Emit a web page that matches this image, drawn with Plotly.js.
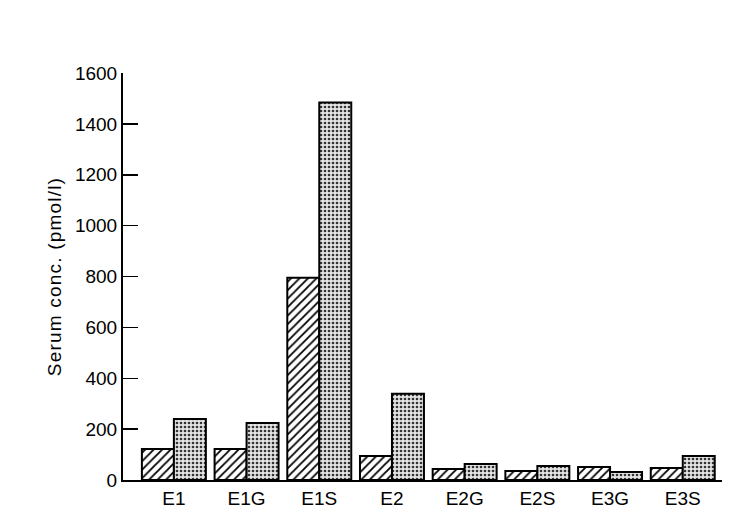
<!DOCTYPE html>
<html>
<head>
<meta charset="utf-8">
<script src="https://cdn.plot.ly/plotly-3.0.1.min.js"></script>
<style>html,body{margin:0;padding:0;background:#fff;}#chart{width:742px;height:527px;}
.ytitle{letter-spacing:1.2px;}</style>
</head>
<body>
<div id="chart"></div>
<script>
var categories = ["E1", "E1G", "E1S", "E2", "E2G", "E2S", "E3G", "E3S"];
var hatchedValues = [122, 122, 795, 94, 43, 35, 51, 47];
var dottedValues = [240, 224, 1484, 339, 63, 55, 31, 94];
var yTicks = [0, 200, 400, 600, 800, 1000, 1200, 1400, 1600];

var font = "Arial, 'Liberation Sans', Helvetica, sans-serif";

var traces = [
  {
    type: "bar",
    x: categories,
    y: hatchedValues,
    marker: {
      color: "#ffffff",
      line: {color: "#000000", width: 2},
      pattern: {shape: "/", fgcolor: "#000000", bgcolor: "#ffffff", size: 6, solidity: 0.3}
    },
    showlegend: false,
    hoverinfo: "skip"
  },
  {
    type: "bar",
    x: categories,
    y: dottedValues,
    marker: {
      color: "#ffffff",
      line: {color: "#000000", width: 2},
      pattern: {shape: ".", fgcolor: "#333333", bgcolor: "#e4e4e4", size: 4, solidity: 0.35}
    },
    showlegend: false,
    hoverinfo: "skip"
  }
];

var layout = {
  width: 742,
  height: 527,
  margin: {l: 123, r: 20, t: 73, b: 47},
  paper_bgcolor: "#ffffff",
  plot_bgcolor: "#ffffff",
  barmode: "group",
  bargap: 0.12,
  bargroupgap: 0,
  font: {family: font, color: "#000000", size: 20},
  xaxis: {
    type: "category",
    range: [-0.7, 7.54],
    showline: true,
    linecolor: "#000000",
    linewidth: 2,
    ticks: "",
    showgrid: false,
    zeroline: false,
    tickfont: {family: font, size: 19, color: "#000000"},
    fixedrange: true
  },
  yaxis: {
    range: [0, 1600],
    tickvals: yTicks,
    ticktext: yTicks.map(String),
    ticks: "inside",
    ticklen: 15,
    tickwidth: 1.5,
    tickcolor: "#000000",
    showline: true,
    linecolor: "#000000",
    linewidth: 2,
    showgrid: false,
    zeroline: false,
    tickfont: {family: font, size: 19, color: "#000000"},
    title: {text: "Serum conc. (pmol/l)", font: {family: font, size: 19, color: "#000000"}, standoff: 8},
    fixedrange: true
  }
};

Plotly.newPlot("chart", traces, layout, {displayModeBar: false, staticPlot: true});
</script>
</body>
</html>
